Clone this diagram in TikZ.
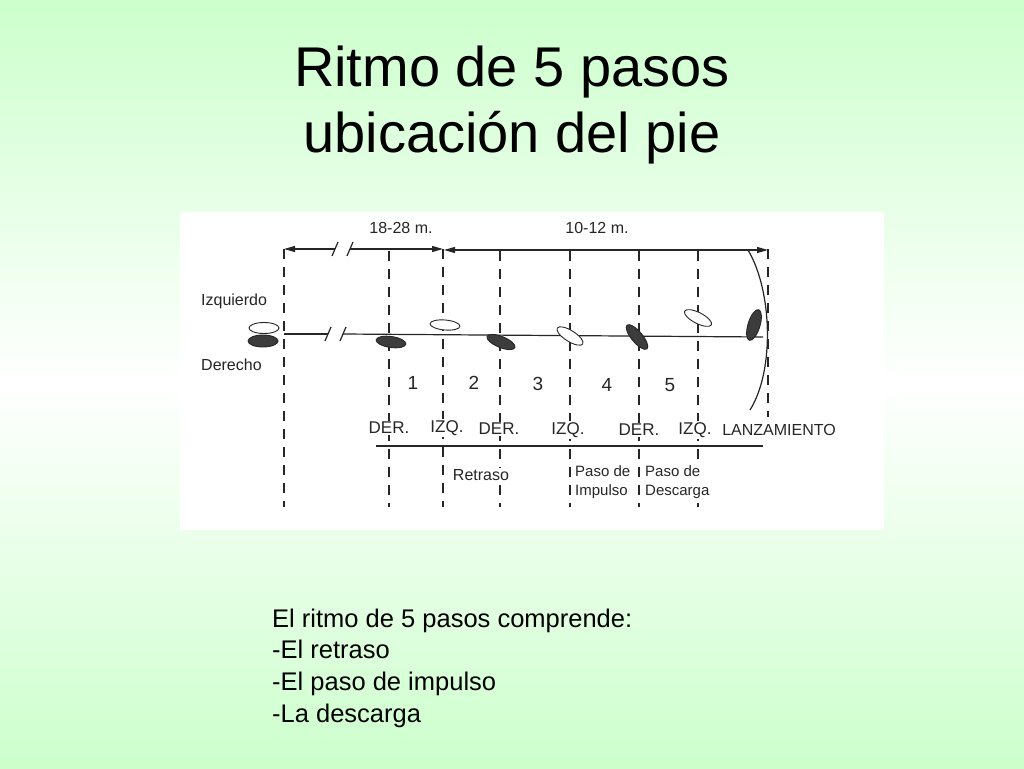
\documentclass[tikz,border=0pt]{standalone}
\usepackage{fontspec}
\setmainfont{Liberation Sans}
\usetikzlibrary{arrows.meta,shapes.geometric,calc}
\definecolor{bggreen}{HTML}{CCFFCC}
\definecolor{ink}{HTML}{262626}
\begin{document}
\begin{tikzpicture}[x=1pt,y=-1pt,
  lbl/.style={font=\fontsize{16}{19}\selectfont, inner sep=1pt, text=ink},
  side/.style={font=\fontsize{17}{20}\selectfont, inner sep=1pt, text=ink, fill=white},
  num/.style={font=\fontsize{19}{22}\selectfont, inner sep=1pt, text=ink},
  vdash/.style={draw=ink, line width=1.3pt, dash pattern=on 10pt off 8pt},
  solidline/.style={draw=ink, line width=1.2pt},
  foot/.style={ellipse, draw=ink, line width=0.9pt, inner sep=0pt, minimum width=30pt, minimum height=11pt},
  footL/.style={foot, fill=white},
  footR/.style={foot, fill=ink!90}
]
\useasboundingbox (0,0) rectangle (1024,768);
% background
\shade[top color=bggreen, bottom color=white] (0,0) rectangle (1024,384);
\shade[top color=white, bottom color=bggreen] (0,383) rectangle (1024,768);

% title
\node[anchor=base, font=\fontsize{56}{67}\selectfont] (t1) at (512,86) {Ritmo de 5 pasos};
\node[anchor=base, font=\fontsize{56}{67}\selectfont] (t2) at (512,152) {ubicación del pie};

% diagram panel
\fill[white] (180,212) rectangle (884,530);

% vertical dashed lines
\foreach \n/\x/\ya/\yb in {A/284/249/507, B/389/251/507, C/443/249/507, D/500/251/507, E/570/251/507, F/639/251/507, G/698/251/507, H/768/249/417}{
  \coordinate (v\n1) at (\x,\ya);
  \coordinate (v\n2) at (\x,\yb);
  \draw[vdash] (v\n1) -- (v\n2);
}

% top dimension arrows
\coordinate (tb1) at (335,249);
\coordinate (tb2) at (350,249);
\draw[solidline, {Triangle[length=11pt,width=6pt]}-] (vA1) -- (tb1);
\draw[solidline, -{Triangle[length=11pt,width=6pt]}] (tb2) -- (vC1);
\draw[solidline, {Triangle[length=11pt,width=6pt]}-{Triangle[length=11pt,width=6pt]}] ($(vC1)+(1,1)$) -- ($(vH1)+(0,1)$);
\foreach \c in {tb1,tb2}{
  \draw[solidline] ($(\c)+(-3,7)$) -- ($(\c)+(3,-7)$);
}
\node[lbl] (d1) at (401,228) {18-28 m.};
\node[lbl] (d2) at (597,228) {10-12 m.};

% centre line with break
\coordinate (cl0) at (284,334);
\coordinate (cb1) at (328,334);
\coordinate (cb2) at (343,334);
\coordinate (cl1) at (763,337);
\draw[solidline] (cl0) -- (cb1);
\draw[solidline] (cb2) -- (cl1);
\foreach \c in {cb1,cb2}{
  \draw[solidline] ($(\c)+(-3,7)$) -- ($(\c)+(3,-7)$);
}

% throwing arc
\coordinate (arcA) at (748,250);
\coordinate (arcB) at (750,410);
\draw[solidline] (arcA) .. controls (772,290) and (775,370) .. (arcB);

% footprints
\node[footL] (fL1) at (264,328) {};
\node[footR, minimum height=12pt] (fL2) at (263,341) {};
\node[footR, rotate=-8] (fB) at (391,342) {};
\node[footL, minimum height=10pt, rotate=-5] (fC) at (445,325) {};
\node[footR, rotate=-22] (fD) at (501,342) {};
\node[footL, rotate=-32] (fE) at (570,336) {};
\node[footR, minimum width=31pt, rotate=-50] (fF) at (637,337) {};
\node[footL, rotate=-27] (fG) at (698,318) {};
\node[footR, minimum width=32pt, minimum height=12pt, rotate=73] (fH) at (754,325) {};

% side labels
\node[lbl, anchor=west] (izq) at (200,301) {Izquierdo};
\node[lbl, anchor=west] (der) at (200,365) {Derecho};

% step numbers
\node[num] (n1) at (413,383) {1};
\node[num] (n2) at (474,383) {2};
\node[num] (n3) at (538,384) {3};
\node[num] (n4) at (607,385) {4};
\node[num] (n5) at (670,385) {5};

% foot labels
\node[side] (s1) at (389,428) {DER.};
\node[side] (s2) at (447,428) {IZQ.};
\node[side] (s3) at (499,429) {DER.};
\node[side] (s4) at (568,430) {IZQ.};
\node[side] (s5) at (639,430) {DER.};
\node[side] (s6) at (695,430) {IZQ.};
\node[lbl] (s7) at (779,430) {LANZAMIENTO};

% lower line
\coordinate (ll0) at (376,446);
\coordinate (ll1) at (763,446);
\draw[solidline] (ll0) -- (ll1);

% phase labels
\node[lbl, fill=white] (ph1) at (481,475) {Retraso};
\node[lbl, align=left, anchor=west, font=\fontsize{15}{19}\selectfont] (ph2) at (574,482) {Paso de\\Impulso};
\node[lbl, fill=white, align=left, anchor=west, font=\fontsize{15}{19}\selectfont] (ph3) at (644,482) {Paso de\\Descarga};

% bottom text
\foreach \t/\yy [count=\i] in {El ritmo de 5 pasos comprende:/627, -El retraso/658, -El paso de impulso/690, -La descarga/722}{
  \node[anchor=base west, inner sep=0pt, font=\fontsize{25.5}{31}\selectfont] (bt\i) at (272,\yy) {\t};
}
\end{tikzpicture}
\end{document}
